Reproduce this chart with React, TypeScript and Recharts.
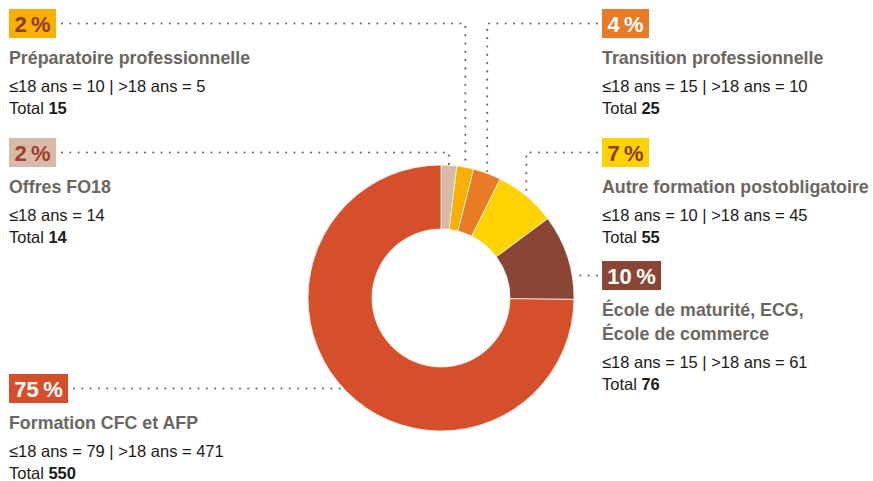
import { PieChart, Pie, Cell } from 'recharts';

// Répartition des jeunes par type de formation (effectifs ≤18 / >18 ans)
const categories = [
  'Offres FO18',
  'Préparatoire professionnelle',
  'Transition professionnelle',
  'Autre formation postobligatoire',
  'École de maturité, ECG,\nÉcole de commerce',
  'Formation CFC et AFP',
];
const under18 = [14, 10, 15, 10, 15, 79];
const over18: (number | null)[] = [null, 5, 10, 45, 61, 471];
const totals = [14, 15, 25, 55, 76, 550];
const shareLabels = ['2', '2', '4', '7', '10', '75'];

const sliceColors = ['#d9b9a8', '#f8af00', '#e97a26', '#ffd200', '#8a4634', '#d64f2b'];
const badgeTextColors = ['#9c3f2b', '#8e3b26', '#ffffff', '#8e3b26', '#ffffff', '#ffffff'];

type Layout = { x: number; top: number; side: 'left' | 'right'; leader: 'elbow' | 'straight' };

// emplacement des étiquettes autour de l'anneau
const labelLayout: Layout[] = [
  { x: 9, top: 138, side: 'left', leader: 'elbow' },
  { x: 9, top: 9, side: 'left', leader: 'elbow' },
  { x: 602, top: 9, side: 'right', leader: 'elbow' },
  { x: 602, top: 138, side: 'right', leader: 'elbow' },
  { x: 602, top: 261, side: 'right', leader: 'straight' },
  { x: 9, top: 374, side: 'left', leader: 'straight' },
];

const FONT = '"Liberation Sans", Arial, sans-serif';
const RAD = Math.PI / 180;

const data = categories.map((name, i) => ({ name, value: totals[i] }));

function renderLabel(props: any) {
  const { cx, cy, outerRadius, midAngle, index } = props;
  const L = labelLayout[index];
  const pct = shareLabels[index];
  const boxW = 35 + 12 * pct.length;
  const boxH = 29;
  const midY = L.top + boxH / 2;

  let leader: string;
  if (L.leader === 'elbow') {
    const ax = cx + outerRadius * Math.cos(midAngle * RAD);
    const ay = cy - outerRadius * Math.sin(midAngle * RAD);
    const from = L.side === 'left' ? L.x + boxW + 6 : L.x - 5;
    leader = `${from},${midY} ${ax},${midY} ${ax},${ay}`;
  } else {
    const dx = Math.sqrt(outerRadius * outerRadius - (midY - cy) * (midY - cy));
    const ex = L.side === 'left' ? cx - dx - 2 : cx + dx + 2;
    const from = L.side === 'left' ? L.x + boxW + 6 : L.x - 5;
    leader = `${from},${midY} ${ex},${midY}`;
  }

  const lines = categories[index].split('\n');
  const extra = (lines.length - 1) * 24;
  const over = over18[index];
  const body = `≤18 ans = ${under18[index]}` + (over != null ? ` | >18 ans = ${over}` : '');

  return (
    <g key={`lbl-${index}`}>
      <polyline
        points={leader}
        fill="none"
        stroke="#6b6b6b"
        strokeWidth={2.2}
        strokeDasharray="0 8.3"
        strokeLinecap="round"
      />
      <rect x={L.x} y={L.top} width={boxW} height={boxH} fill={sliceColors[index]} />
      <text
        x={L.x + boxW / 2}
        y={L.top + 23}
        textAnchor="middle"
        fontFamily={FONT}
        fontWeight={700}
        fontSize={22}
        fill={badgeTextColors[index]}
      >
        {`${pct}\u2009%`}
      </text>
      {lines.map((ln, k) => (
        <text
          key={k}
          x={L.x}
          y={L.top + 55 + k * 24}
          fontFamily={FONT}
          fontWeight={700}
          fontSize={17.8}
          fill="#6c6661"
        >
          {ln}
        </text>
      ))}
      <text x={L.x} y={L.top + 83 + extra} fontFamily={FONT} fontSize={16.5} fill="#1a1a1a">
        {body}
      </text>
      <text x={L.x} y={L.top + 105 + extra} fontFamily={FONT} fontSize={16.5} fill="#1a1a1a">
        Total <tspan fontWeight={700}>{totals[index]}</tspan>
      </text>
    </g>
  );
}

export default function App() {
  return (
    <div style={{ width: 873, height: 481, background: '#ffffff' }}>
      <style>{'body{margin:0}'}</style>
      <PieChart width={873} height={481} margin={{ top: 0, right: 0, bottom: 0, left: 0 }}>
        <Pie
          data={data}
          dataKey="value"
          nameKey="name"
          cx={441}
          cy={298}
          innerRadius={69}
          outerRadius={133}
          startAngle={90}
          endAngle={-270}
          stroke="rgba(255,255,255,0.7)"
          strokeWidth={1}
          labelLine={false}
          label={renderLabel}
          isAnimationActive={false}
        >
          {data.map((d, i) => (
            <Cell key={d.name} fill={sliceColors[i]} />
          ))}
        </Pie>
      </PieChart>
    </div>
  );
}
